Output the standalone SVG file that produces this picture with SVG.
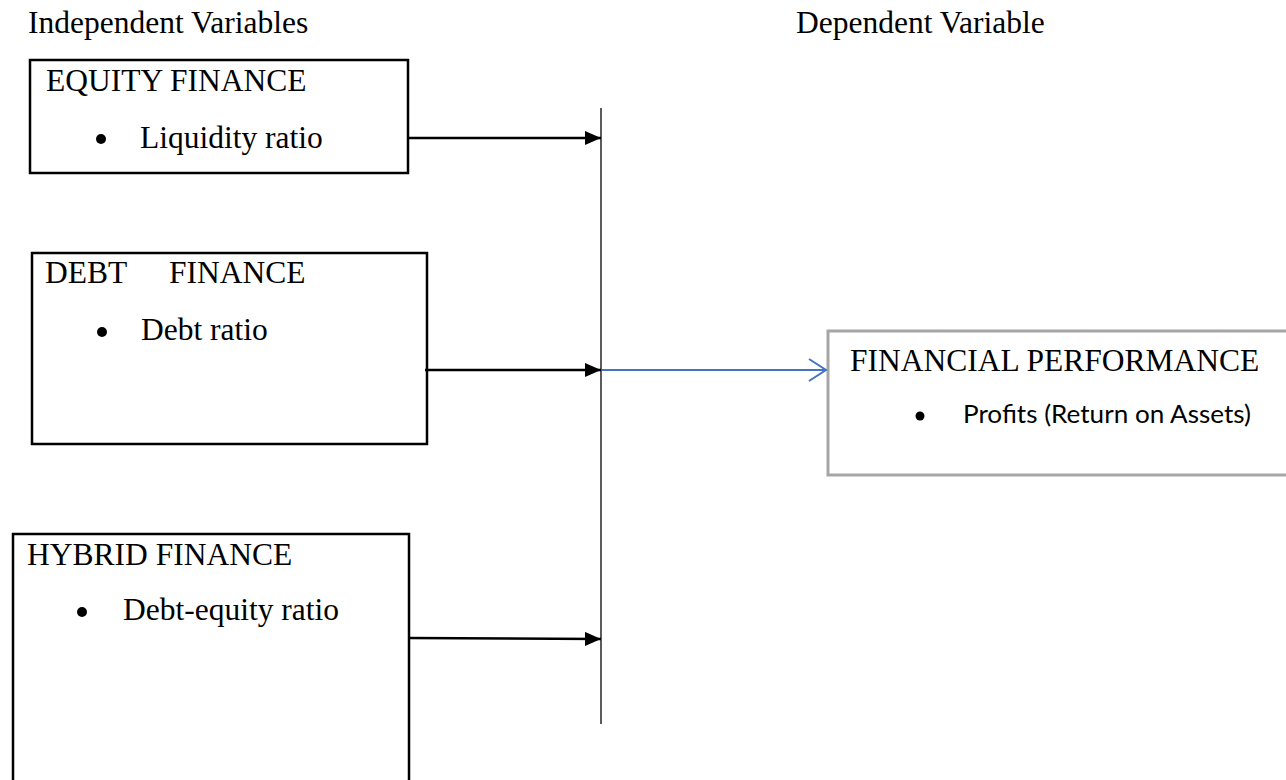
<svg xmlns="http://www.w3.org/2000/svg" width="1286" height="780" viewBox="0 0 1286 780">
  <style>
    .serif { font-family: "Liberation Serif", "Times New Roman", serif; font-size: 31.5px; fill: #000; }
    .sans { font-family: Lato, "Liberation Sans", sans-serif; font-size: 25px; fill: #000; }
    .box { fill: #fff; stroke: #000; stroke-width: 2.5; }
    .box-gray { fill: #fff; stroke: #a6a6a6; stroke-width: 3; }
    .arrow { stroke: #000; stroke-width: 2.5; fill: none; }
    .blue { stroke: #4472c4; stroke-width: 2; fill: none; }
    .bar { stroke: #333; stroke-width: 1.6; }
  </style>
  <defs>
    <marker id="headBlack" markerUnits="userSpaceOnUse" markerWidth="16" markerHeight="14" refX="16" refY="7" orient="auto">
      <path d="M0,0 L16,7 L0,14 z" fill="#000"/>
    </marker>
    <marker id="headBlue" markerUnits="userSpaceOnUse" markerWidth="20" markerHeight="24" refX="18" refY="12" orient="auto">
      <path d="M1,1 L18,12 L1,23" fill="none" stroke="#4472c4" stroke-width="2"/>
    </marker>
  </defs>
  <rect width="1286" height="780" fill="#fff"/>

  <text class="serif" x="28" y="33">Independent Variables</text>
  <text class="serif" x="796" y="33">Dependent Variable</text>

  <g id="equity">
    <rect class="box" x="30" y="60" width="378" height="113"/>
    <text class="serif" x="46" y="91">EQUITY FINANCE</text>
    <circle cx="101" cy="139" r="5"/>
    <text class="serif" x="140" y="148">Liquidity ratio</text>
  </g>

  <g id="debt">
    <rect class="box" x="32" y="253" width="395" height="191"/>
    <text class="serif" x="45" y="283">DEBT <tspan x="169">FINANCE</tspan></text>
    <circle cx="102" cy="332" r="5"/>
    <text class="serif" x="141" y="340">Debt ratio</text>
  </g>

  <g id="hybrid">
    <rect class="box" x="13" y="534" width="396" height="270"/>
    <text class="serif" x="27" y="565">HYBRID FINANCE</text>
    <circle cx="82" cy="612" r="5"/>
    <text class="serif" x="123" y="620">Debt-equity ratio</text>
  </g>

  <g id="performance">
    <rect class="box-gray" x="828" y="331" width="480" height="144"/>
    <text class="serif" x="850" y="371">FINANCIAL PERFORMANCE</text>
    <circle cx="920" cy="416" r="4.5"/>
    <text class="sans" x="963" y="423" textLength="288" lengthAdjust="spacingAndGlyphs">Profits (Return on Assets)</text>
  </g>

  <g id="connectors">
    <line class="bar" x1="601" y1="108" x2="601" y2="724"/>
    <line class="arrow" x1="408" y1="138" x2="601" y2="138" marker-end="url(#headBlack)"/>
    <line class="arrow" x1="425" y1="370" x2="601" y2="370" marker-end="url(#headBlack)"/>
    <line class="arrow" x1="409" y1="638" x2="601" y2="639" marker-end="url(#headBlack)"/>
    <line class="blue" x1="602" y1="370" x2="826" y2="370" marker-end="url(#headBlue)"/>
  </g>
</svg>
